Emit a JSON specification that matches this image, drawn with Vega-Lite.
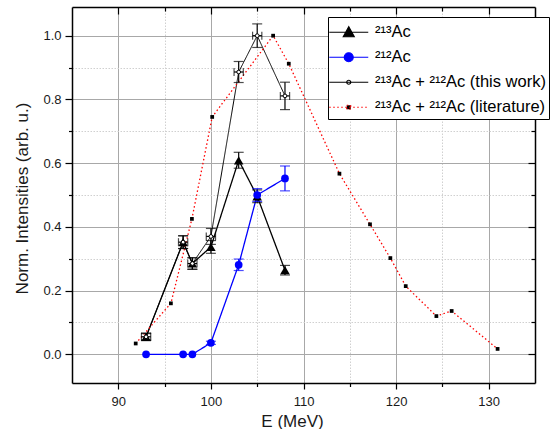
{
  "$schema": "https://vega.github.io/schema/vega-lite/v6.json",
  "width": 463,
  "height": 376,
  "autosize": "none",
  "padding": {"left": 72, "top": 7, "right": 21, "bottom": 46},
  "config": {
    "view": {"stroke": null},
    "font": "Liberation Sans",
    "axis": {
      "labelFont": "Liberation Sans",
      "labelFontSize": 13,
      "labelColor": "#1a1a1a",
      "titleFont": "Liberation Sans",
      "titleFontSize": 17,
      "titleFontWeight": "normal",
      "titleColor": "#1a1a1a",
      "domainColor": "black",
      "domainWidth": 1.5,
      "tickColor": "black",
      "tickWidth": 1.2
    }
  },
  "data": {
    "values": [
      {"series": "²¹³Ac", "E": 93, "v": 0.055, "lo": 0.045, "hi": 0.065},
      {"series": "²¹³Ac", "E": 97, "v": 0.352, "lo": 0.332, "hi": 0.372},
      {"series": "²¹³Ac", "E": 98, "v": 0.285, "lo": 0.267, "hi": 0.303},
      {"series": "²¹³Ac", "E": 100, "v": 0.337, "lo": 0.317, "hi": 0.357},
      {"series": "²¹³Ac", "E": 103, "v": 0.609, "lo": 0.584, "hi": 0.634},
      {"series": "²¹³Ac", "E": 105, "v": 0.496, "lo": 0.476, "hi": 0.516},
      {"series": "²¹³Ac", "E": 108, "v": 0.264, "lo": 0.249, "hi": 0.279},
      {"series": "²¹²Ac", "E": 93, "v": 0.0},
      {"series": "²¹²Ac", "E": 97, "v": 0.0},
      {"series": "²¹²Ac", "E": 98, "v": 0.0},
      {"series": "²¹²Ac", "E": 100, "v": 0.036, "lo": 0.031, "hi": 0.041},
      {"series": "²¹²Ac", "E": 103, "v": 0.281, "lo": 0.263, "hi": 0.299},
      {"series": "²¹²Ac", "E": 105, "v": 0.5, "lo": 0.48, "hi": 0.52},
      {"series": "²¹²Ac", "E": 108, "v": 0.552, "lo": 0.513, "hi": 0.591},
      {"series": "²¹³Ac + ²¹²Ac (this work)", "E": 93, "v": 0.055, "lo": 0.043, "hi": 0.067, "elo": 92.5, "ehi": 93.5},
      {"series": "²¹³Ac + ²¹²Ac (this work)", "E": 97, "v": 0.352, "lo": 0.332, "hi": 0.372, "elo": 96.5, "ehi": 97.5},
      {"series": "²¹³Ac + ²¹²Ac (this work)", "E": 98, "v": 0.285, "lo": 0.267, "hi": 0.303, "elo": 97.5, "ehi": 98.5},
      {"series": "²¹³Ac + ²¹²Ac (this work)", "E": 100, "v": 0.37, "lo": 0.345, "hi": 0.395, "elo": 99.5, "ehi": 100.5},
      {"series": "²¹³Ac + ²¹²Ac (this work)", "E": 103, "v": 0.886, "lo": 0.853, "hi": 0.919, "elo": 102.5, "ehi": 103.5},
      {"series": "²¹³Ac + ²¹²Ac (this work)", "E": 105, "v": 1.0, "lo": 0.963, "hi": 1.037, "elo": 104.5, "ehi": 105.5},
      {"series": "²¹³Ac + ²¹²Ac (this work)", "E": 108, "v": 0.811, "lo": 0.768, "hi": 0.854, "elo": 107.5, "ehi": 108.5},
      {"series": "²¹³Ac + ²¹²Ac (literature)", "E": 91.88, "v": 0.034},
      {"series": "²¹³Ac + ²¹²Ac (literature)", "E": 95.68, "v": 0.16},
      {"series": "²¹³Ac + ²¹²Ac (literature)", "E": 97.95, "v": 0.425},
      {"series": "²¹³Ac + ²¹²Ac (literature)", "E": 100.14, "v": 0.745},
      {"series": "²¹³Ac + ²¹²Ac (literature)", "E": 106.72, "v": 1.0},
      {"series": "²¹³Ac + ²¹²Ac (literature)", "E": 108.41, "v": 0.912},
      {"series": "²¹³Ac + ²¹²Ac (literature)", "E": 113.88, "v": 0.567},
      {"series": "²¹³Ac + ²¹²Ac (literature)", "E": 117.18, "v": 0.408},
      {"series": "²¹³Ac + ²¹²Ac (literature)", "E": 119.38, "v": 0.302},
      {"series": "²¹³Ac + ²¹²Ac (literature)", "E": 121.04, "v": 0.214},
      {"series": "²¹³Ac + ²¹²Ac (literature)", "E": 124.35, "v": 0.12},
      {"series": "²¹³Ac + ²¹²Ac (literature)", "E": 126.0, "v": 0.136},
      {"series": "²¹³Ac + ²¹²Ac (literature)", "E": 130.96, "v": 0.017}
    ]
  },
  "resolve": {"axis": {"x": "independent", "y": "independent"}},
  "layer": [
    {
      "mark": {"type": "line", "strokeCap": "butt"},
      "encoding": {
        "x": {
          "field": "E", "type": "quantitative",
          "scale": {"domain": [85, 135], "nice": false, "zero": false},
          "axis": {
            "orient": "bottom",
            "values": [90, 95, 100, 105, 110, 115, 120, 125, 130],
            "labelExpr": "datum.value % 10 === 0 ? datum.label : ''",
            "tickSize": {"condition": {"test": "datum.value % 10 === 0", "value": 6}, "value": 3.5},
            "labelPadding": 6,
            "grid": true,
            "gridColor": {"condition": {"test": "datum.value % 10 === 0", "value": "#a8a8a8"}, "value": "#d0d0d0"},
            "gridDash": {"condition": {"test": "datum.value % 10 === 0", "value": []}, "value": [1.5, 1.5]},
            "gridWidth": 1,
            "title": "E (MeV)",
            "titleX": 220,
            "titleY": 43,
            "titleBaseline": "alphabetic"
          }
        },
        "y": {
          "field": "v", "type": "quantitative",
          "scale": {"domain": [-0.09, 1.09], "nice": false, "zero": false},
          "axis": {
            "orient": "left",
            "values": [0, 0.1, 0.2, 0.3, 0.4, 0.5, 0.6, 0.7, 0.8, 0.9, 1.0],
            "format": ".1f",
            "labelExpr": "round(datum.value * 10) % 2 === 0 ? datum.label : ''",
            "tickSize": {"condition": {"test": "round(datum.value * 10) % 2 === 0", "value": 7}, "value": 3.5},
            "labelPadding": 4,
            "grid": true,
            "gridColor": {"condition": {"test": "round(datum.value * 10) % 2 === 0", "value": "#a8a8a8"}, "value": "#d0d0d0"},
            "gridDash": {"condition": {"test": "round(datum.value * 10) % 2 === 0", "value": []}, "value": [1.5, 1.5]},
            "gridWidth": 1,
            "title": "Norm. Intensities (arb. u.)",
            "titleX": -45,
            "titleY": 191,
            "titleBaseline": "alphabetic",
            "titleAngle": -90
          }
        },
        "color": {
          "field": "series", "type": "nominal",
          "scale": {
            "domain": ["²¹³Ac", "²¹²Ac", "²¹³Ac + ²¹²Ac (this work)", "²¹³Ac + ²¹²Ac (literature)"],
            "range": ["black", "blue", "black", "red"]
          },
          "legend": {
            "title": null,
            "orient": "none",
            "legendX": 256,
            "legendY": 10,
            "padding": 3,
            "strokeColor": "black",
            "fillColor": "white",
            "cornerRadius": 0,
            "symbolSize": 100,
            "symbolOffset": 9.5,
            "symbolStrokeWidth": 1.2,
            "labelOffset": 18,
            "labelFont": "Liberation Sans",
            "labelFontSize": 16.5,
            "labelColor": "black",
            "labelLimit": 400,
            "rowPadding": 4,
            "encode": {
              "labels": {
                "update": {"dy": {"value": 4}}
              },
              "symbols": {
                "update": {
                  "y": {"field": "size", "mult": 0.5, "offset": 4},
                  "shape": {"signal": "datum.index === 0 ? 'M-3.9,0H3.9M-1.1,0.9L0,-1.1L1.1,0.9Z' : datum.index === 1 ? 'M-3.9,0H3.9M-0.9,0A0.9,0.9,0,1,0,0.9,0A0.9,0.9,0,1,0,-0.9,0Z' : datum.index === 2 ? 'M-3.9,0H3.9M-0.4,0A0.4,0.4,0,1,0,0.4,0A0.4,0.4,0,1,0,-0.4,0Z' : 'M-3.9,0H3.9M-0.4,-0.4H0.4V0.4H-0.4Z'"},
                  "fill": {"signal": "datum.index === 0 ? 'black' : datum.index === 1 ? 'blue' : datum.index === 2 ? 'white' : 'black'"},
                  "stroke": {"signal": "datum.index === 1 ? 'blue' : datum.index === 3 ? 'red' : 'black'"},
                  "strokeDash": {"signal": "datum.index === 3 ? [1.5, 2.5] : []"},
                  "strokeWidth": {"value": 1.2},
                  "opacity": {"value": 1},
                  "fillOpacity": {"value": 1}
                }
              }
            }
          }
        },
        "strokeDash": {
          "condition": {"test": "datum.series === '²¹³Ac + ²¹²Ac (literature)'", "value": [1.5, 2.5]},
          "value": [1, 0]
        },
        "strokeWidth": {
          "condition": {"test": "datum.series === '²¹³Ac + ²¹²Ac (this work)'", "value": 1},
          "value": 1.3
        }
      }
    },
    {
      "transform": [{"filter": "isValid(datum.lo)"}],
      "mark": {"type": "rule", "strokeWidth": 1.2},
      "encoding": {
        "x": {"field": "E", "type": "quantitative", "axis": null},
        "y": {"field": "lo", "type": "quantitative", "axis": null},
        "y2": {"field": "hi"},
        "color": {"condition": {"test": "datum.series === '²¹²Ac'", "value": "blue"}, "value": "black"}
      }
    },
    {
      "transform": [{"filter": "isValid(datum.lo)"}],
      "mark": {"type": "tick", "orient": "horizontal", "size": 10, "thickness": 1.2},
      "encoding": {
        "x": {"field": "E", "type": "quantitative", "axis": null},
        "y": {"field": "lo", "type": "quantitative", "axis": null},
        "color": {"condition": {"test": "datum.series === '²¹²Ac'", "value": "blue"}, "value": "black"}
      }
    },
    {
      "transform": [{"filter": "isValid(datum.hi)"}],
      "mark": {"type": "tick", "orient": "horizontal", "size": 10, "thickness": 1.2},
      "encoding": {
        "x": {"field": "E", "type": "quantitative", "axis": null},
        "y": {"field": "hi", "type": "quantitative", "axis": null},
        "color": {"condition": {"test": "datum.series === '²¹²Ac'", "value": "blue"}, "value": "black"}
      }
    },
    {
      "transform": [{"filter": "isValid(datum.elo)"}],
      "mark": {"type": "rule", "strokeWidth": 1.2, "color": "black"},
      "encoding": {
        "x": {"field": "elo", "type": "quantitative", "axis": null},
        "x2": {"field": "ehi"},
        "y": {"field": "v", "type": "quantitative", "axis": null}
      }
    },
    {
      "transform": [{"filter": "isValid(datum.elo)"}],
      "mark": {"type": "tick", "orient": "vertical", "size": 8, "thickness": 1.2, "color": "black"},
      "encoding": {
        "x": {"field": "elo", "type": "quantitative", "axis": null},
        "y": {"field": "v", "type": "quantitative", "axis": null}
      }
    },
    {
      "transform": [{"filter": "isValid(datum.ehi)"}],
      "mark": {"type": "tick", "orient": "vertical", "size": 8, "thickness": 1.2, "color": "black"},
      "encoding": {
        "x": {"field": "ehi", "type": "quantitative", "axis": null},
        "y": {"field": "v", "type": "quantitative", "axis": null}
      }
    },
    {
      "transform": [{"filter": {"field": "series", "equal": "²¹³Ac"}}],
      "mark": {"type": "point", "shape": "triangle-up", "filled": true, "size": 90, "color": "black", "opacity": 1},
      "encoding": {
        "x": {"field": "E", "type": "quantitative", "axis": null},
        "y": {"field": "v", "type": "quantitative", "axis": null}
      }
    },
    {
      "transform": [{"filter": {"field": "series", "equal": "²¹²Ac"}}],
      "mark": {"type": "point", "shape": "circle", "filled": true, "size": 60, "color": "blue", "opacity": 1},
      "encoding": {
        "x": {"field": "E", "type": "quantitative", "axis": null},
        "y": {"field": "v", "type": "quantitative", "axis": null}
      }
    },
    {
      "transform": [{"filter": {"field": "series", "equal": "²¹³Ac + ²¹²Ac (this work)"}}],
      "mark": {"type": "point", "shape": "circle", "filled": false, "size": 14, "fill": "white", "fillOpacity": 1, "stroke": "black", "strokeWidth": 1, "opacity": 1},
      "encoding": {
        "x": {"field": "E", "type": "quantitative", "axis": null},
        "y": {"field": "v", "type": "quantitative", "axis": null}
      }
    },
    {
      "transform": [{"filter": {"field": "series", "equal": "²¹³Ac + ²¹²Ac (literature)"}}],
      "mark": {"type": "point", "shape": "square", "filled": true, "size": 14, "color": "black", "opacity": 1},
      "encoding": {
        "x": {
          "field": "E", "type": "quantitative",
          "axis": {
            "orient": "top",
            "values": [90, 95, 100, 105, 110, 115, 120, 125, 130],
            "labels": false,
            "title": null,
            "grid": false,
            "tickSize": {"condition": {"test": "datum.value % 10 === 0", "value": -7}, "value": -4}
          }
        },
        "y": {
          "field": "v", "type": "quantitative",
          "axis": {
            "orient": "right",
            "values": [0, 0.1, 0.2, 0.3, 0.4, 0.5, 0.6, 0.7, 0.8, 0.9, 1.0],
            "labels": false,
            "title": null,
            "grid": false,
            "tickSize": {"condition": {"test": "round(datum.value * 10) % 2 === 0", "value": -7}, "value": -4}
          }
        }
      }
    }
  ]
}
